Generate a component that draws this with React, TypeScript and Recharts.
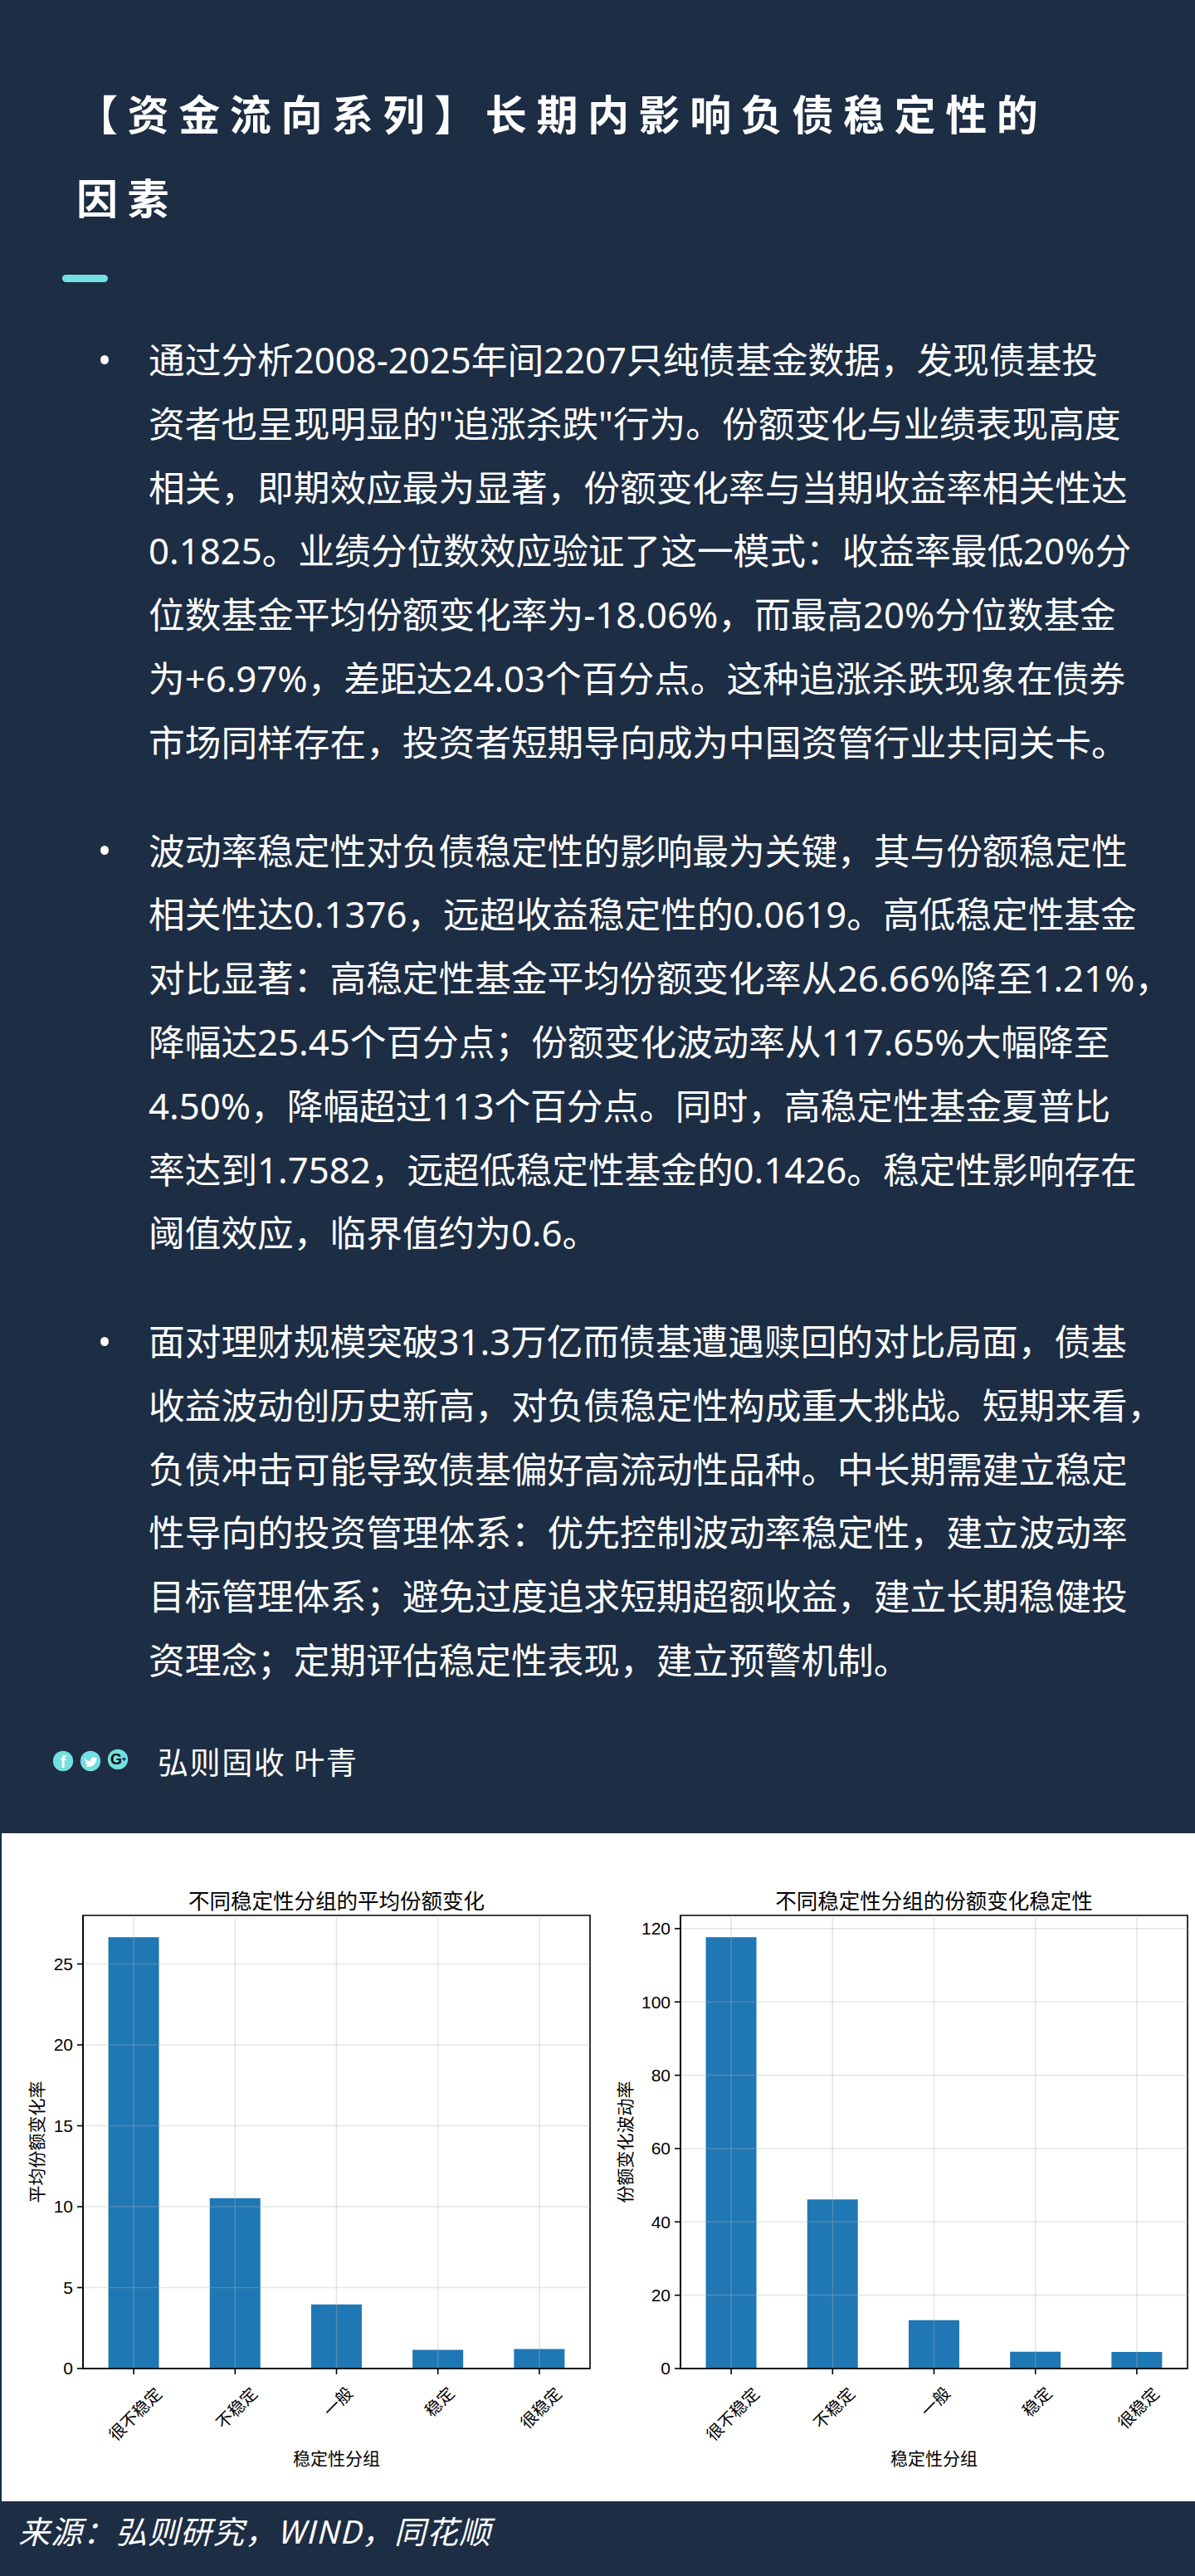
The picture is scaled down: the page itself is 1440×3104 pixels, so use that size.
import React from "react";
import { BarChart, Bar, ReferenceArea, ReferenceLine, XAxis, YAxis } from "recharts";

const categories = ["很不稳定", "不稳定", "一般", "稳定", "很稳定"];
const avgShareChange = [26.66, 10.53, 3.96, 1.15, 1.21];
const shareVolatility = [117.65, 46.1, 13.2, 4.56, 4.5];
const avgTicks = [0, 5, 10, 15, 20, 25];
const volTicks = [0, 20, 40, 60, 80, 100, 120];

const titleLines = ["【资金流向系列】长期内影响负债稳定性的", "因素"];
const para1 = [
  "通过分析2008-2025年间2207只纯债基金数据，发现债基投",
  '资者也呈现明显的"追涨杀跌"行为。份额变化与业绩表现高度',
  "相关，即期效应最为显著，份额变化率与当期收益率相关性达",
  "0.1825。业绩分位数效应验证了这一模式：收益率最低20%分",
  "位数基金平均份额变化率为-18.06%，而最高20%分位数基金",
  "为+6.97%，差距达24.03个百分点。这种追涨杀跌现象在债券",
  "市场同样存在，投资者短期导向成为中国资管行业共同关卡。",
];
const para2 = [
  "波动率稳定性对负债稳定性的影响最为关键，其与份额稳定性",
  "相关性达0.1376，远超收益稳定性的0.0619。高低稳定性基金",
  "对比显著：高稳定性基金平均份额变化率从26.66%降至1.21%，",
  "降幅达25.45个百分点；份额变化波动率从117.65%大幅降至",
  "4.50%，降幅超过113个百分点。同时，高稳定性基金夏普比",
  "率达到1.7582，远超低稳定性基金的0.1426。稳定性影响存在",
  "阈值效应，临界值约为0.6。",
];
const para3 = [
  "面对理财规模突破31.3万亿而债基遭遇赎回的对比局面，债基",
  "收益波动创历史新高，对负债稳定性构成重大挑战。短期来看，",
  "负债冲击可能导致债基偏好高流动性品种。中长期需建立稳定",
  "性导向的投资管理体系：优先控制波动率稳定性，建立波动率",
  "目标管理体系；避免过度追求短期超额收益，建立长期稳健投",
  "资理念；定期评估稳定性表现，建立预警机制。",
];

const CJK = '"Noto Sans CJK SC", sans-serif';
const BODY = '"Noto Sans", "Noto Sans CJK SC", sans-serif';
const NUM = '"Liberation Sans", "Noto Sans CJK SC", sans-serif';
const NAVY = "#1c2d44";
const TEAL = "#72dfe0";

const RotatedTick = (props: any) => {
  const { x, y, payload } = props;
  const n = String(payload.value).length;
  const cy = y + 8 + ((n + 1) * 21 * 0.707) / 2;
  return (
    <text
      x={x + 1}
      y={cy}
      transform={`rotate(-45 ${x + 1} ${cy})`}
      textAnchor="middle"
      dominantBaseline="central"
      fontSize={20}
      fontFamily={CJK}
      fill="#000"
    >
      {payload.value}
    </text>
  );
};

function Panel(props: {
  left: number;
  title: string;
  titleX: number;
  yLabel: string;
  yLabelOffset: number;
  values: number[];
  ticks: number[];
  yMax: number;
}) {
  const rows = categories.map((name, i) => ({ name, value: props.values[i] }));
  return (
    <div style={{ position: "absolute", left: props.left, top: 2209, width: 720, height: 805 }}>
      <div
        style={{
          position: "absolute",
          left: props.titleX - props.left,
          top: 63,
          transform: "translateX(-50%)",
          fontFamily: CJK,
          fontSize: 25.5,
          lineHeight: "34px",
          color: "#000",
          whiteSpace: "pre",
        }}
      >
        {props.title}
      </div>
      <BarChart
        width={720}
        height={805}
        data={rows}
        margin={{ top: 99, right: 9, bottom: 0, left: 0 }}
        barCategoryGap="25%"
      >
        <XAxis
          dataKey="name"
          height={160}
          interval={0}
          tick={<RotatedTick />}
          tickSize={7}
          stroke="#000"
          strokeWidth={1.6}
          label={{
            value: "稳定性分组",
            position: "insideBottom",
            offset: 44,
            style: { fontFamily: CJK, fontSize: 21, fill: "#000" },
          }}
        />
        <YAxis
          width={100}
          domain={[0, props.yMax]}
          ticks={props.ticks}
          interval={0}
          tickSize={7}
          tickMargin={5}
          tick={{ fontFamily: NUM, fontSize: 21, fill: "#000" }}
          stroke="#000"
          strokeWidth={1.6}
          label={{
            value: props.yLabel,
            angle: -90,
            position: "insideLeft",
            offset: props.yLabelOffset,
            style: { fontFamily: CJK, fontSize: 21, fill: "#000", textAnchor: "middle" },
          }}
        />
        <Bar dataKey="value" fill="#1f77b4" isAnimationActive={false} />
        {props.ticks.map((t) => (
          <ReferenceLine key={t} y={t} stroke="#b0b0b0" strokeOpacity={0.32} strokeWidth={1.6} />
        ))}
        {categories.map((c) => (
          <ReferenceLine key={c} x={c} stroke="#b0b0b0" strokeOpacity={0.32} strokeWidth={1.6} />
        ))}
        <ReferenceArea y1={0} y2={props.yMax} fill="none" fillOpacity={0} stroke="#000" strokeOpacity={1} strokeWidth={1.6} />
      </BarChart>
    </div>
  );
}

function Paragraph({ lines, top }: { lines: string[]; top: number }) {
  return (
    <>
      <div
        style={{
          position: "absolute",
          left: 120.5,
          top: top - 5.5,
          width: 10,
          height: 11,
          borderRadius: "50%",
          background: "#fff",
        }}
      />
      {lines.map((line, i) => (
        <div
          key={i}
          style={{
            position: "absolute",
            left: 179,
            top: top + i * 76.8 - 38,
            lineHeight: "76px",
            fontFamily: BODY,
            fontSize: 43.7,
            color: "#fff",
            whiteSpace: "pre",
          }}
        >
          {line}
        </div>
      ))}
    </>
  );
}

function Icon({ cx, cy, children }: { cx: number; cy: number; children: React.ReactNode }) {
  return (
    <svg
      width={26}
      height={26}
      viewBox="0 0 26 26"
      style={{ position: "absolute", left: cx - 13, top: cy - 13 }}
    >
      <circle cx={13} cy={13} r={12.2} fill={TEAL} />
      {children}
    </svg>
  );
}

export default function App() {
  return (
    <div style={{ position: "absolute", left: 0, top: 0, width: 1440, height: 3104, background: NAVY, overflow: "hidden" }}>
      {titleLines.map((line, i) => (
        <div
          key={i}
          style={{
            position: "absolute",
            left: 92,
            top: 135 + i * 100.5 - 40,
            lineHeight: "80px",
            fontFamily: CJK,
            fontWeight: 700,
            fontSize: 50,
            letterSpacing: 11.6,
            color: "#fff",
            whiteSpace: "pre",
          }}
        >
          {line}
        </div>
      ))}
      <div style={{ position: "absolute", left: 75, top: 331, width: 55, height: 9, borderRadius: 4.5, background: TEAL }} />

      <Paragraph lines={para1} top={433} />
      <Paragraph lines={para2} top={1024.6} />
      <Paragraph lines={para3} top={1616} />

      <Icon cx={76} cy={2122}>
        <text x={13} y={20.5} textAnchor="middle" fontFamily='"Liberation Sans"' fontWeight={700} fontSize={20} fill="#fff">
          f
        </text>
      </Icon>
      <Icon cx={109} cy={2122}>
        <path d="M6 9 C8 12 10 13 13 13 C13 9 17 7 19 9.5 L21 9 L20 11 C20 16 16 20 11 20 C9 20 7 19.5 6 19 C8 19 9.5 18.5 10 18 C8 17.5 7 16 7 15 L8.5 15 C7 14 6 12 6 9 Z" fill="#fff" />
      </Icon>
      <Icon cx={142} cy={2120}>
        <text x={11} y={19} textAnchor="middle" fontFamily='"Liberation Sans"' fontWeight={700} fontSize={18} fill="#000">
          G
        </text>
        <text x={20.5} y={16} textAnchor="middle" fontFamily='"Liberation Sans"' fontWeight={700} fontSize={9} fill="#000">
          +
        </text>
      </Icon>
      <div
        style={{
          position: "absolute",
          left: 190,
          top: 2122 - 30,
          lineHeight: "60px",
          fontFamily: CJK,
          fontSize: 37,
          letterSpacing: 1.6,
          color: "#fff",
          whiteSpace: "pre",
        }}
      >
        弘则固收 叶青
      </div>

      <div style={{ position: "absolute", left: 2, top: 2209, width: 1438, height: 805, background: "#fff" }} />
      <Panel left={0} title="不同稳定性分组的平均份额变化" titleX={405.5} yLabel="平均份额变化率" yLabelOffset={45} values={avgShareChange} ticks={avgTicks} yMax={28} />
      <Panel left={720} title="不同稳定性分组的份额变化稳定性" titleX={1125.5} yLabel="份额变化波动率" yLabelOffset={34} values={shareVolatility} ticks={volTicks} yMax={123.6} />

      <div
        style={{
          position: "absolute",
          left: 22,
          top: 3049 - 30,
          lineHeight: "60px",
          fontFamily: CJK,
          fontSize: 38,
          letterSpacing: 1,
          fontStyle: "italic",
          color: "#fff",
          whiteSpace: "pre",
        }}
      >
        来源：弘则研究，WIND，同花顺
      </div>
    </div>
  );
}
